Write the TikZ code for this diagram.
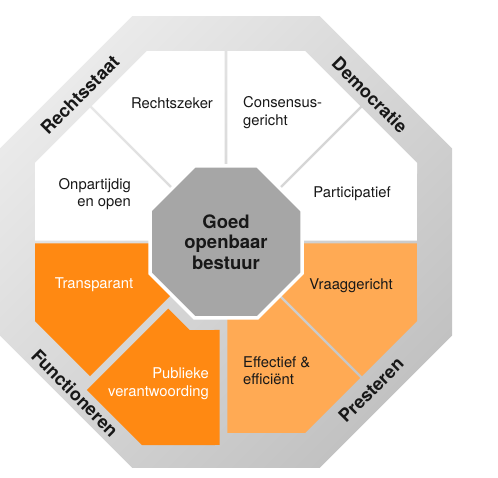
\documentclass[tikz,border=0pt]{standalone}
\usepackage{fontspec}
\setmainfont{TeX Gyre Heros}
\definecolor{orDark}{RGB}{255,137,18}
\definecolor{orLight}{RGB}{255,170,84}
\definecolor{bandLight}{RGB}{234,234,234}
\definecolor{bandDark}{RGB}{194,194,194}
\definecolor{coreGrey}{RGB}{166,166,166}
\definecolor{ink}{RGB}{24,24,24}
\begin{document}
\begin{tikzpicture}[x=1pt, y=1pt,
    label/.style={font=\fontsize{14.8}{17.5}\selectfont, text=ink, inner sep=0pt},
    wlabel/.style={label, text=white},
    band/.style={font=\fontsize{18}{20}\selectfont\bfseries, text=ink, inner sep=0pt}]
    \useasboundingbox (0,0) rectangle (498,477);
    \coordinate (C) at (226,235);

    \def\Ain{191}
    \def\Acore{76}
    \pgfmathsetmacro\Rout{226/cos(22.5)}
    \pgfmathsetmacro\Rin{\Ain/cos(22.5)}
    \pgfmathsetmacro\Rcore{\Acore/cos(22.5)}
    \pgfmathsetmacro\dIn{atan(1.3/\Ain)}
    \pgfmathsetmacro\dCore{atan(1.3/\Acore)}

    \begin{scope}[shift={(C)}]
        % grey band
        \shade[top color=bandLight, bottom color=bandDark, shading angle=45]
            (22.5:\Rout) \foreach \k in {1,...,7} { -- (22.5+45*\k:\Rout) } -- cycle;

        % eight sectors, one of them pushed outwards
        \foreach \a/\col/\s in {0/white/0, 45/white/0, 90/white/0, 135/white/0,
                                180/orDark/0, 225/orDark/13, 270/orLight/0, 315/orLight/0}
            \fill[\col, shift={(\a+22.5:\s)}]
                (\a+\dIn:\Ain) -- (\a+22.5:\Rin) -- (\a+45-\dIn:\Ain)
                -- (\a+45-\dCore:\Acore) -- (\a+22.5:\Rcore) -- (\a+\dCore:\Acore) -- cycle;

        % core
        \filldraw[fill=coreGrey, draw=white, line width=3.5]
            (22.5:\Rcore) \foreach \k in {1,...,7} { -- (22.5+45*\k:\Rcore) } -- cycle;
    \end{scope}

    \node[font=\fontsize{18.5}{20.5}\selectfont\bfseries, text=ink, align=center, inner sep=0pt]
        (goal) at (C) {Goed\\openbaar\\bestuur};

    \node[label] (rechtszeker) at (172,374) {Rechtszeker};
    \node[label, anchor=west, align=left] (consensus) at (243,364.5) {Consensus-\\gericht};
    \node[label, anchor=east, align=right] (onpartijdig) at (131,283) {Onpartijdig\\en open};
    \node[label] (participatief) at (352,283) {Participatief};
    \node[wlabel] (transparant) at (94,192) {Transparant};
    \node[wlabel, anchor=east, align=right] (publiek) at (209,93.5) {Publieke\\verantwoording};
    \node[label] (vraag) at (351,191) {Vraaggericht};
    \node[label, anchor=west, align=left] (effectief) at (243,106.5) {Effectief \&\\efficiënt};

    \node[band, rotate=45] (rechtsstaat) at (80,382) {Rechtsstaat};
    \node[band, rotate=-45] (democratie) at (370,382) {Democratie};
    \node[band, rotate=-45] (functioneren) at (75,84) {Functioneren};
    \node[band, rotate=45] (presteren) at (371,87) {Presteren};
\end{tikzpicture}
\end{document}
